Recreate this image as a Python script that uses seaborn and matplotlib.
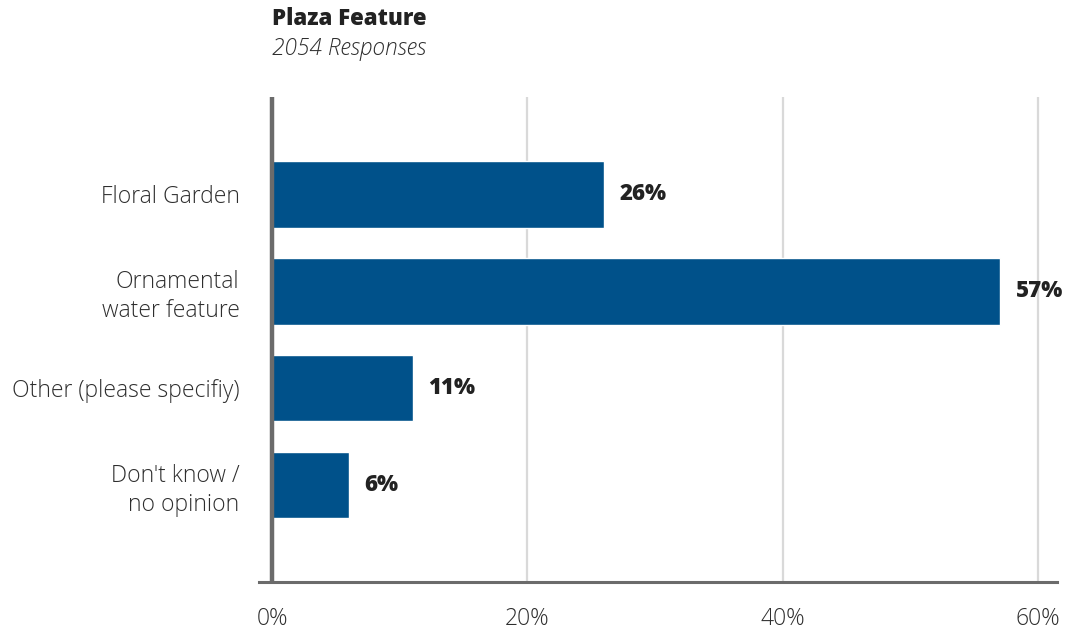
import numpy as np
import pandas as pd
import seaborn as sns
import matplotlib.pyplot as plt

categories = ["Floral Garden", "Ornamental\nwater feature", "Other (please specifiy)", "Don't know /\nno opinion"]
values = [26, 57, 11, 6]
xticks = [0, 20, 40, 60]
xtick_labels = ["0%", "20%", "40%", "60%"]

df = pd.DataFrame({"cat": categories, "pct": values})

sns.set_theme(style="white")
plt.rcParams['font.family'] = ['Open Sans', 'DejaVu Sans']

fig = plt.figure(figsize=(10.65, 6.29), dpi=100)
ax = fig.add_axes([0.2432, 0.0747, 0.7493, 0.771])

sns.barplot(data=df, x="pct", y="cat", color="#00518a", saturation=1, width=0.69, ax=ax, orient="h")

ax.set_xlim(-1.02, 61.47)
ax.set_ylim(4, -1)
for x in xticks[1:]:
    ax.axvline(x, color="#d9d9d9", lw=1.6, zorder=0)
ax.axvline(0, color="#6b6b6b", lw=3.2, zorder=3)

for s in ["top", "right", "left"]:
    ax.spines[s].set_visible(False)
ax.spines["bottom"].set_color("#6b6b6b")
ax.spines["bottom"].set_linewidth(2.2)

ax.set_xticks(xticks)
ax.set_xticklabels(xtick_labels)
ax.tick_params(axis="x", length=0, pad=18, labelsize=16.5, labelcolor="#2e2e2e")
ax.tick_params(axis="y", length=0, pad=14, labelsize=16.5, labelcolor="#2e2e2e")
for lab in ax.get_yticklabels() + ax.get_xticklabels():
    lab.set_linespacing(1.28)
    lab.set_fontweight(300)
ax.set_xlabel("")
ax.set_ylabel("")

for i, v in enumerate(values):
    ax.annotate(f"{v}%", (v, i), xytext=(11.5, 0), textcoords="offset points",
                ha="left", va="center", fontsize=16, fontweight=800, color="#222222")

fig.text(272 / 1065, 1 - 19 / 629, "Plaza Feature", fontsize=16, fontweight=800,
         color="#222222", ha="left", va="center")
fig.text(272 / 1065, 1 - 49 / 629, "2054 Responses", fontsize=16.3, style="italic",
         fontweight=300, color="#2e2e2e", ha="left", va="center")

fig.savefig("out.png", dpi=100)
